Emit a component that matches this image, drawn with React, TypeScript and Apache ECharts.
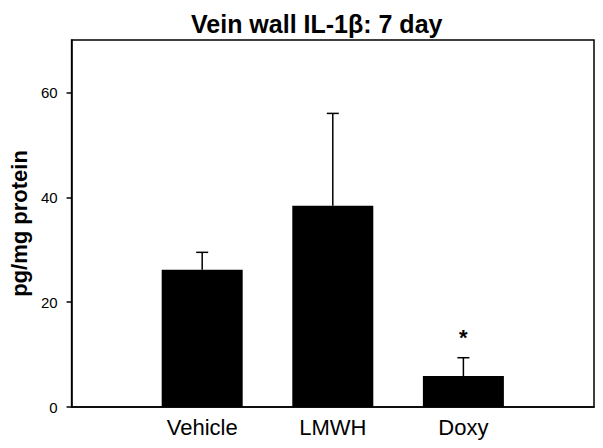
import React, { useEffect, useRef } from "react";
import * as echarts from "echarts";

const categories = ["Vehicle", "LMWH", "Doxy"];
const means = [26.2, 38.4, 5.9];
const errors = [3.3, 17.6, 3.5];
const significance = ["", "", "*"];
const yTicks = [0, 20, 40, 60];

const FONT = "'Liberation Sans', Arial, Helvetica, sans-serif";

export default function App() {
  const ref = useRef<HTMLDivElement>(null);
  useEffect(() => {
    if (!ref.current) return;
    const chart = echarts.init(ref.current, undefined, { renderer: "svg" });
    const barData = means.map((m, i) => [i + 1, m]);
    const errData = means.map((m, i) => [i + 1, m, m + errors[i], i]);
    chart.setOption({
      animation: false,
      title: {
        text: "Vein wall IL-1β: 7 day",
        left: 186,
        top: 6,
        textStyle: { fontFamily: FONT, fontSize: 25, fontWeight: "bold", color: "#000" },
      },
      grid: {
        left: 70,
        right: 9,
        top: 40,
        bottom: 41,
        show: true,
        borderColor: "#000",
        borderWidth: 1.5,
      },
      xAxis: {
        type: "value",
        min: 0,
        max: 4,
        interval: 1,
        splitLine: { show: false },
        axisTick: { show: false },
        axisLine: { lineStyle: { color: "#000", width: 1.5 } },
        axisLabel: {
          margin: 9,
          color: "#000",
          fontFamily: FONT,
          fontSize: 22,
          formatter: (v: number) => categories[v - 1] ?? "",
        },
      },
      yAxis: {
        type: "value",
        min: 0,
        max: 70,
        interval: 20,
        splitLine: { show: false },
        name: "pg/mg protein",
        nameLocation: "middle",
        nameRotate: 90,
        nameGap: 38,
        nameTextStyle: { fontFamily: FONT, fontSize: 22, fontWeight: "bold", color: "#000" },
        axisLine: { show: true, lineStyle: { color: "#000", width: 1.5 } },
        axisTick: { show: true, length: 5, lineStyle: { color: "#000", width: 1.5 }, customValues: yTicks },
        axisLabel: {
          margin: 14,
          color: "#000",
          fontFamily: FONT,
          fontSize: 15,
          customValues: yTicks,
        },
      },
      series: [
        {
          type: "bar",
          data: barData,
          barWidth: 81,
          itemStyle: { color: "#000" },
          z: 2,
        },
        {
          type: "custom",
          data: errData,
          z: 3,
          renderItem: (params: any, api: any) => {
            const x = api.value(0);
            const base = api.coord([x, api.value(1)]);
            const top = api.coord([x, api.value(2)]);
            const idx = api.value(3);
            const children: any[] = [
              {
                type: "line",
                shape: { x1: base[0], y1: base[1], x2: top[0], y2: top[1] },
                style: { stroke: "#000", lineWidth: 1.5 },
              },
              {
                type: "line",
                shape: { x1: top[0] - 6, y1: top[1], x2: top[0] + 6, y2: top[1] },
                style: { stroke: "#000", lineWidth: 1.5 },
              },
            ];
            const sig = significance[idx];
            if (sig) {
              children.push({
                type: "text",
                x: top[0],
                y: top[1] - 20,
                style: {
                  text: sig,
                  fill: "#000",
                  font: `bold 22px ${FONT}`,
                  textAlign: "center",
                  textVerticalAlign: "middle",
                },
              });
            }
            return { type: "group", children };
          },
        },
      ],
    });
    return () => chart.dispose();
  }, []);
  return (
    <div
      ref={ref}
      style={{ position: "absolute", left: 0, top: 0, width: 603, height: 448 }}
    />
  );
}
